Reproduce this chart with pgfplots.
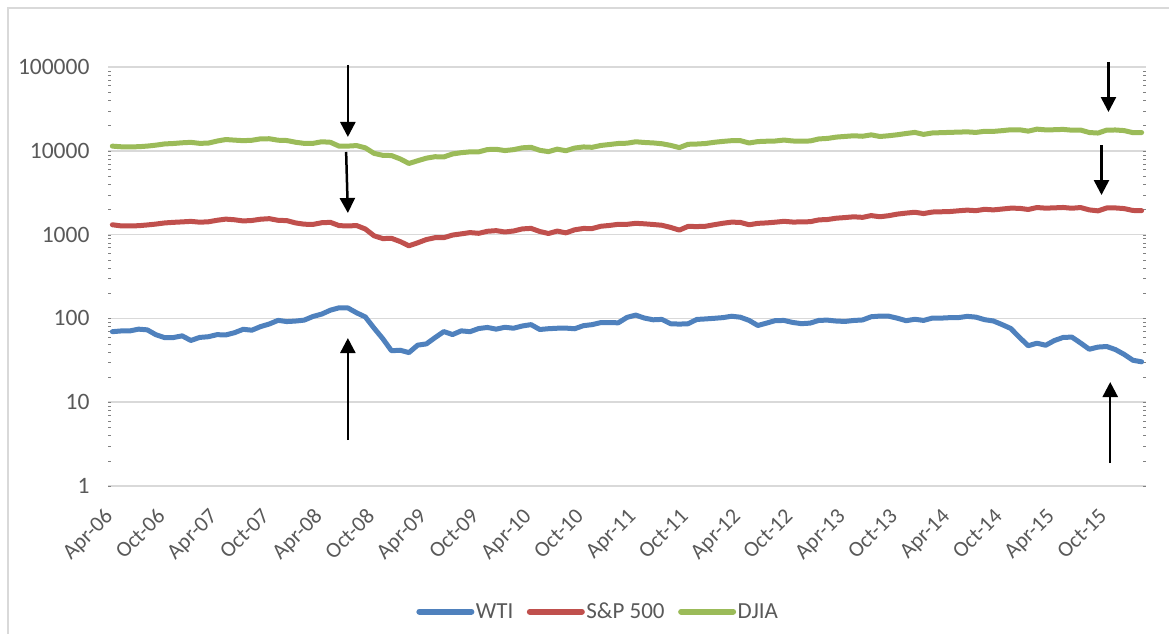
\documentclass[border=0pt]{standalone}
\usepackage{fontspec}
\setmainfont{Carlito}
\usepackage{pgfplots}
\usepackage{pgfplotstable}
\pgfplotsset{compat=1.18}
\usetikzlibrary{arrows.meta}
\definecolor{wti}{HTML}{4F81BD}
\definecolor{sp}{HTML}{C0504D}
\definecolor{dj}{HTML}{9BBB59}
\definecolor{gridc}{HTML}{D9D9D9}
\definecolor{txt}{HTML}{595959}
\pgfplotstableread{
idx wti sp dj
0 69.44 1310.6 11367
1 70.84 1270.1 11168
2 70.95 1270.2 11150
3 74.41 1276.7 11186
4 73.04 1303.8 11381
5 63.80 1335.9 11679
6 58.89 1377.9 12081
7 59.08 1400.6 12222
8 61.96 1418.3 12463
9 54.51 1438.2 12622
10 59.28 1406.8 12269
11 60.44 1420.9 12354
12 63.98 1482.4 13063
13 63.46 1530.6 13628
14 67.49 1503.4 13409
15 74.12 1455.3 13212
16 72.36 1474.0 13358
17 79.92 1526.8 13896
18 85.80 1549.4 13930
19 94.77 1481.1 13372
20 91.69 1468.4 13265
21 92.97 1378.6 12650
22 95.39 1330.6 12266
23 105.45 1322.7 12263
24 112.58 1385.6 12820
25 125.40 1400.4 12638
26 133.88 1280.0 11350
27 133.37 1267.4 11378
28 116.67 1282.8 11544
29 104.11 1166.4 10851
30 76.61 968.8 9325
31 57.31 896.2 8829
32 41.12 903.3 8776
33 41.71 825.9 8001
34 39.09 735.1 7063
35 47.94 797.9 7609
36 49.65 872.8 8168
37 59.03 919.1 8500
38 69.64 919.3 8447
39 64.15 987.5 9172
40 71.05 1020.6 9496
41 69.41 1057.1 9712
42 75.72 1036.2 9713
43 77.99 1095.6 10345
44 74.47 1115.1 10428
45 78.33 1073.9 10067
46 76.39 1104.5 10325
47 81.20 1169.4 10857
48 84.29 1186.7 11009
49 73.74 1089.4 10137
50 75.34 1030.7 9774
51 76.32 1101.6 10466
52 76.60 1049.3 10015
53 75.24 1141.2 10788
54 81.89 1183.3 11118
55 84.25 1180.6 11006
56 89.15 1257.6 11578
57 89.17 1286.1 11892
58 88.58 1327.2 12226
59 102.86 1325.8 12320
60 109.53 1363.6 12811
61 100.90 1345.2 12570
62 96.26 1320.6 12414
63 97.30 1292.3 12143
64 86.33 1218.9 11614
65 85.52 1131.4 10913
66 86.32 1253.3 11955
67 97.16 1247.0 12046
68 98.56 1257.6 12218
69 100.27 1312.4 12633
70 102.20 1365.7 12952
71 106.16 1408.5 13212
72 103.32 1397.9 13214
73 94.66 1310.3 12393
74 82.30 1362.2 12880
75 87.90 1379.3 13009
76 94.13 1406.6 13091
77 94.51 1440.7 13437
78 89.49 1412.2 13096
79 86.53 1416.2 13026
80 87.86 1426.2 13104
81 94.76 1498.1 13861
82 95.31 1514.7 14054
83 92.94 1569.2 14579
84 92.02 1597.6 14840
85 94.51 1630.7 15116
86 95.77 1606.3 14910
87 104.67 1685.7 15500
88 106.57 1633.0 14810
89 106.29 1681.6 15130
90 100.54 1756.5 15546
91 93.86 1805.8 16086
92 97.63 1848.4 16577
93 94.62 1782.6 15699
94 100.82 1859.5 16322
95 100.80 1872.3 16458
96 102.07 1884.0 16581
97 102.18 1923.6 16717
98 105.79 1960.2 16827
99 103.59 1930.7 16563
100 96.54 2003.4 17098
101 93.21 1972.3 17043
102 84.40 2018.1 17391
103 75.79 2067.6 17828
104 59.29 2058.9 17823
105 47.22 1995.0 17165
106 50.58 2104.5 18133
107 47.82 2067.9 17776
108 54.45 2085.5 17841
109 59.27 2107.4 18011
110 59.82 2063.1 17620
111 50.90 2103.8 17690
112 42.87 1972.2 16528
113 45.48 1920.0 16285
114 46.22 2079.4 17664
115 42.44 2080.4 17720
116 37.19 2043.9 17425
117 31.68 1940.2 16466
118 30.32 1932.2 16517
}\datatable

\begin{document}
\begin{tikzpicture}[x=1pt,y=1pt]
\useasboundingbox (0,0) rectangle (1169,633);
\draw[gridc, line width=1.5pt] (8,-20) -- (8,625) -- (1190,625);
\begin{axis}[
  at={(108pt,147pt)}, anchor=south west,
  width=1038pt, height=419pt, scale only axis,
  ymode=log, ymin=1, ymax=100000,
  xmin=-0.5, xmax=118.5,
  clip=false,
  axis line style={draw=none},
  major tick length=0pt, minor tick num=0,
  ymajorgrids, yminorgrids=false,
  grid style={gridc, line width=1.5pt},
  ytick={1,10,100,1000,10000,100000},
  yticklabels={1,10,100,1000,10000,100000},
  xtick={0,6,...,114},
  xticklabels={Apr-06,Oct-06,Apr-07,Oct-07,Apr-08,Oct-08,Apr-09,Oct-09,Apr-10,Oct-10,Apr-11,Oct-11,Apr-12,Oct-12,Apr-13,Oct-13,Apr-14,Oct-14,Apr-15,Oct-15},
  tick label style={text=txt},
  xticklabel shift=21pt,
  xticklabel style={font=\fontsize{22}{26}\selectfont, xshift=-9pt, rotate=45, anchor=north east, inner sep=0pt},
  yticklabel style={font=\fontsize{23.5}{27}\selectfont, anchor=east, xshift=-15pt},
  legend style={at={(0.472,-0.30)}, anchor=center, draw=none, fill=none,
    font=\fontsize{23}{27}\selectfont, text=txt,
    nodes={inner sep=1.5pt},
    /tikz/every even column/.append style={column sep=12pt}},
  legend columns=-1,
  legend image code/.code={\draw[#1, line width=6pt, line cap=round] (0pt,0pt) -- (52pt,0pt);},
  every axis plot/.append style={line width=5pt, line join=round, line cap=round, mark=none},
]
\addplot[wti] table[x=idx, y=wti] {\datatable};
\addlegendentry{WTI}
\addplot[sp] table[x=idx, y=sp] {\datatable};
\addlegendentry{S\&P 500}
\addplot[dj] table[x=idx, y=dj] {\datatable};
\addlegendentry{DJIA}

\draw[black, line width=2.5pt, -{Triangle[width=15pt,length=15pt]}] (axis cs:27,105700) -- (axis cs:27,14620);
\draw[black, line width=2.5pt, -{Triangle[width=15pt,length=15pt]}] (axis cs:26.8,9680) -- (axis cs:27,1811);
\draw[black, line width=2.5pt, -{Triangle[width=15pt,length=15pt]}] (axis cs:27,3.54) -- (axis cs:27,58.3);
\draw[black, line width=2.5pt, -{Triangle[width=15pt,length=15pt]}] (axis cs:114.2,114800) -- (axis cs:114.2,29040);
\draw[black, line width=2.5pt, -{Triangle[width=15pt,length=15pt]}] (axis cs:113.4,11720) -- (axis cs:113.4,2966);
\draw[black, line width=2.5pt, -{Triangle[width=15pt,length=15pt]}] (axis cs:114.4,1.88) -- (axis cs:114.4,17.4);
\end{axis}
\end{tikzpicture}
\end{document}
